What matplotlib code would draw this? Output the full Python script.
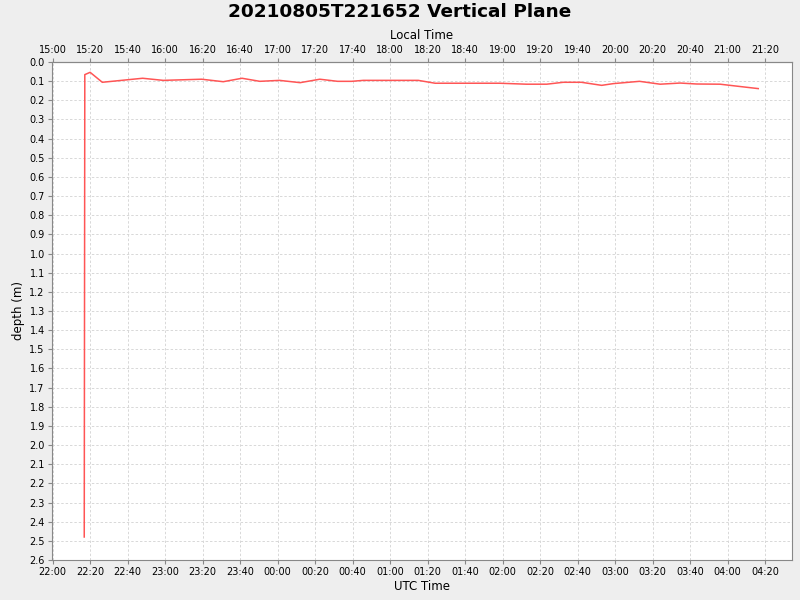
import matplotlib
matplotlib.use("Agg")
import matplotlib.pyplot as plt
import matplotlib.dates as mdates
import pandas as pd
import numpy as np

# UTC sample times and depth readings (m)
utc_times = ["22:16:52", "22:17:10", "22:20:00", "22:26:30", "22:48:00", "22:59:00",
             "23:19:30", "23:31:00", "23:41:00", "23:50:30", "00:01:00", "00:12:00",
             "00:22:30", "00:32:00", "00:39:30", "00:45:40", "01:15:00", "01:24:00",
             "01:58:30", "02:12:40", "02:23:30", "02:32:20", "02:42:00", "02:52:50",
             "02:59:00", "03:13:00", "03:24:00", "03:34:40", "03:43:30", "03:56:00",
             "04:03:00", "04:16:20"]
depth = [2.48, 0.066, 0.054, 0.106, 0.085, 0.096,
         0.090, 0.103, 0.085, 0.101, 0.096, 0.108,
         0.090, 0.101, 0.101, 0.096, 0.096, 0.111,
         0.111, 0.116, 0.116, 0.106, 0.106, 0.122,
         0.113, 0.101, 0.116, 0.110, 0.115, 0.116,
         0.124, 0.139]

title = "20210805T221652 Vertical Plane"
utc_offset_hours = -7  # local time = UTC - 7h

# put times on the right day (crosses midnight)
t = []
for s in utc_times:
    day = "2021-08-05" if int(s[:2]) >= 12 else "2021-08-06"
    t.append(pd.Timestamp(day + " " + s))
t = mdates.date2num(t)

fig = plt.figure(figsize=(8, 6), dpi=100, facecolor="#eeeeee")
ax = fig.add_axes([0.0646, 0.0667, 0.9254, 0.83])
ax.set_facecolor("white")

ax.plot(t, depth, color="#ff5555", linewidth=1.1)

x0 = mdates.date2num(pd.Timestamp("2021-08-05 21:59:30"))
x1 = mdates.date2num(pd.Timestamp("2021-08-06 04:34:20"))
ax.set_xlim(x0, x1)
ax.set_ylim(2.6, 0.0)
ax.set_yticks(np.round(np.arange(0, 2.61, 0.1), 1))
ax.yaxis.set_major_formatter(matplotlib.ticker.FormatStrFormatter("%.1f"))

ax.xaxis.set_major_locator(mdates.MinuteLocator(byminute=[0, 20, 40]))
ax.xaxis.set_major_formatter(mdates.DateFormatter("%H:%M"))

off = utc_offset_hours / 24.0
top = ax.secondary_xaxis("top", functions=(lambda x: x + off, lambda x: x - off))
top.xaxis.set_major_locator(mdates.MinuteLocator(byminute=[0, 20, 40]))
top.xaxis.set_major_formatter(mdates.DateFormatter("%H:%M"))

ax.grid(True, color="#d8d8d8", linestyle=(0, (2.5, 2)), linewidth=0.7)

for a in (ax, top):
    a.tick_params(labelsize=7, length=3, width=0.8, color="#888888", pad=2)
for sp in ax.spines.values():
    sp.set_color("#888888")
for sp in top.spines.values():
    sp.set_color("#888888")

ax.set_xlabel("UTC Time", fontsize=8.5, labelpad=2)
top.set_xlabel("Local Time", fontsize=8.5, labelpad=4)
ax.set_ylabel("depth (m)", fontsize=8.5, labelpad=3)
fig.suptitle(title, fontsize=13.3, fontweight="bold", y=0.995)

fig.savefig("out.png", dpi=100, facecolor=fig.get_facecolor())
